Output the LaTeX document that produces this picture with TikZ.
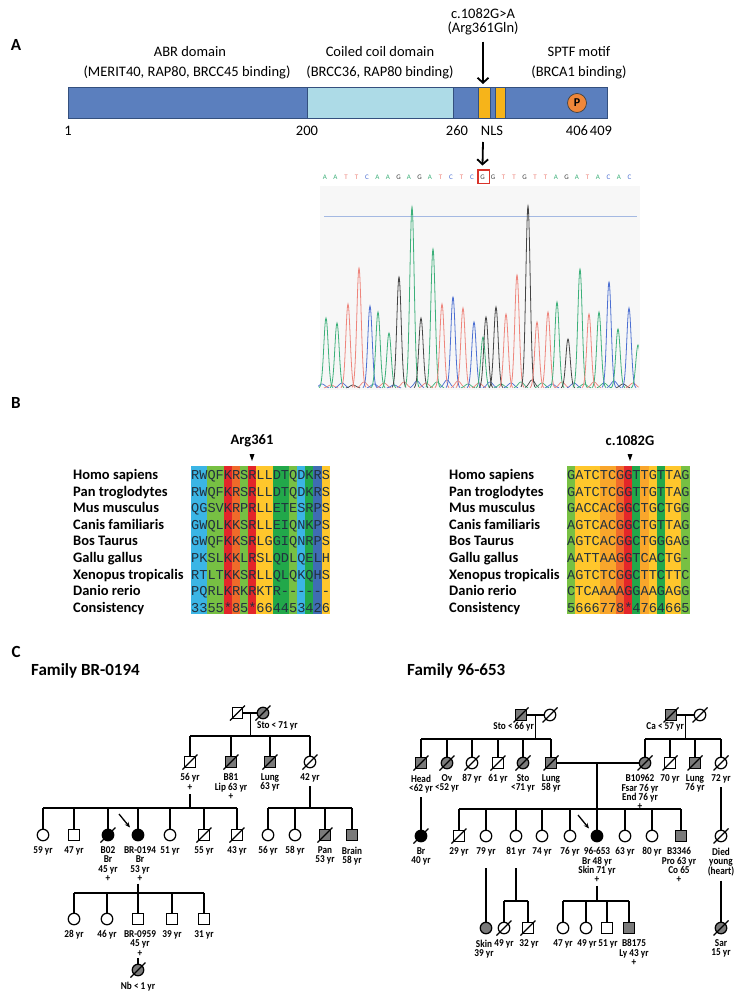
\documentclass[tikz,border=0pt]{standalone}
\usepackage{fontspec}
\setmainfont{Carlito}
\setmonofont{Liberation Mono}
\newfontfamily\pedfam[FakeStretch=0.88]{Carlito}
\usetikzlibrary{arrows.meta}
\definecolor{barblue}{HTML}{5B7FBE}
\definecolor{barline}{HTML}{34507E}
\definecolor{coil}{HTML}{ADDBE7}
\definecolor{nls}{HTML}{F6B41A}
\definecolor{porange}{HTML}{EF873A}
\definecolor{chA}{HTML}{3DB07A}
\definecolor{chT}{HTML}{EE857C}
\definecolor{chC}{HTML}{4C6FD2}
\definecolor{chG}{HTML}{444444}
\definecolor{hline}{HTML}{A4B9E2}
\definecolor{cs2}{HTML}{3F6DB3}
\definecolor{cs3}{HTML}{3BB5E5}
\definecolor{cs4}{HTML}{22A84A}
\definecolor{cs5}{HTML}{77C043}
\definecolor{cs6}{HTML}{FFC72C}
\definecolor{cs7}{HTML}{F9A62B}
\definecolor{cs8}{HTML}{F06A2A}
\definecolor{csS}{HTML}{E3262A}
\definecolor{seqtxt}{HTML}{22313F}
\definecolor{pedgray}{HTML}{7A7A7A}
\definecolor{boxred}{HTML}{D9332A}
\newcommand\fA{\fontsize{14.5}{16}\selectfont}
\newcommand\fPanel{\fontsize{17}{17}\selectfont\bfseries}
\newcommand\fSp{\fontsize{14.5}{16}\selectfont\bfseries}
\newcommand\fSeq{\fontsize{13.6}{14}\selectfont\ttfamily}
\newcommand\fChr{\fontsize{7}{7}\selectfont}
\newcommand\pedfont{\pedfam\bfseries\fontsize{10.5}{9.3}\selectfont}
\newcommand\perx[6]{\node[#4] (#1) at (#2,#3) {}; \node[plab] (#1t) at (#6,#3+11.5) {#5};}
\newcommand\per[5]{\perx{#1}{#2}{#3}{#4}{#5}{#2}}
\newcommand\dd[1]{\draw[pedline] ([shift={(-7.5,7.5)}]#1.center) -- ([shift={(7.5,-7.5)}]#1.center);}
\newcommand\drops[2]{\foreach \c in {#2}{\draw[pedline] (\c.north) -- (\c.north |- #1);}}
\begin{document}
\begin{tikzpicture}[x=1pt,y=-1pt,
  pedline/.style={line width=1.25pt},
  sq/.style={draw,rectangle,minimum size=10.5pt,inner sep=0pt,line width=1.25pt,fill=white},
  ci/.style={draw,circle,minimum size=11.5pt,inner sep=0pt,line width=1.25pt,fill=white},
  gry/.style={fill=pedgray},
  aff/.style={fill=black},
  plab/.style={anchor=north,inner sep=0pt,align=center,font=\pedfont},
  atext/.style={inner sep=0pt,font=\fA},
  species/.style={anchor=base west,inner sep=0pt,font=\fSp},
  seqtext/.style={anchor=base west,inner sep=0pt,font=\fSeq,text=seqtxt},
  bigarr/.style={line width=1.8pt,-{Straight Barb[length=5pt,width=11pt]}},
  parr/.style={line width=1.3pt,-{Stealth[length=5.5pt,width=4.5pt]}},
]
\useasboundingbox (0,0) rectangle (745,1000);
\fill[white] (0,0) rectangle (745,1000);

% ---------- panel labels
\node[font=\fPanel,inner sep=0pt] (labA) at (16,45) {A};
\node[font=\fPanel,inner sep=0pt] (labB) at (16,403) {B};
\node[font=\fPanel,inner sep=0pt] (labC) at (16,652) {C};

% ---------- panel A: protein
\filldraw[fill=barblue,draw=barline,line width=0.6pt] (68,87) rectangle (607,118);
\filldraw[fill=coil,draw=barline,line width=0.5pt] (307,87) rectangle (453,118);
\filldraw[fill=nls,draw=barline,line width=0.6pt] (478,87) rectangle (490,118);
\filldraw[fill=nls,draw=barline,line width=0.6pt] (495,87) rectangle (505,118);
\node[circle,fill=porange,draw=black!75,line width=0.7pt,minimum size=19pt,inner sep=0pt,font=\bfseries\fontsize{12}{12}\selectfont] (pcirc) at (577,103) {P};

\node[atext] (a1) at (190,52) {ABR domain};
\node[atext] (a2) at (187,72) {(MERIT40, RAP80, BRCC45 binding)};
\node[atext] (a3) at (380,52) {Coiled coil domain};
\node[atext] (a4) at (380,72) {(BRCC36, RAP80 binding)};
\node[atext] (a5) at (579,52) {SPTF motif};
\node[atext] (a6) at (579,72) {(BRCA1 binding)};
\node[atext] (a7) at (483,14) {c.1082G>A};
\node[atext] (a8) at (483,28) {(Arg361Gln)};
\coordinate (barTop) at (483,84);
\draw[bigarr] ([yshift=-7pt]a8.south) -- (barTop);

\node[atext] (n1) at (68,131) {1};
\node[atext] (n200) at (307,131) {200};
\node[atext] (n260) at (457,131) {260};
\node[atext] (nNLS) at (492,131) {NLS};
\node[atext] (n406) at (577,131) {406};
\node[atext] (n409) at (601,131) {409};

% ---------- chromatogram
\fill[black!3] (320,186) rectangle (640,390);
\draw[hline,line width=0.8pt] (324,216) -- (637,216);
\foreach \L [count=\i from 0] in {A,A,T,T,C,A,A,G,A,G,A,T,C,T,C,G,G,T,T,G,T,T,A,G,A,T,A,C,A,C}
  \node[font=\fChr,text=ch\L,inner sep=0pt] (s\i) at (325+10.5*\i,177) {\L};
\draw[boxred,line width=1.3pt] (478,170) rectangle (489.5,183.5);
\coordinate (mutTop) at (483,142);
\draw[bigarr] (mutTop) -- ([yshift=9pt]s15.north);

\begin{scope}
\clip (318,190) rectangle (638.5,392);
\foreach \px/\ph/\pc in {322/4/chC,331/3/chT,342/5/chC,353/3/chG,364/6/chT,374/4/chC,384/5/chT,394/3/chC,404/6/chT,417/7/chC,426/5/chT,437/6/chA,447/8/chC,458/7/chT,468/4/chA,479/5/chT,490/6/chC,501/4/chA,511/5/chC,521/6/chA,532/8/chG,542/5/chA,552/4/chC,562/6/chT,574/5/chC,584/4/chA,594/6/chT,604/5/chA,614/7/chC,623/4/chG,633/5/chT}
  \draw[color=\pc,line width=0.7pt] plot[domain=-7:7,samples=21,smooth] ({\px+\x},{388-\ph*exp(-((\x)*(\x))/18)});
\foreach \px/\ph/\pc in {326/70/chA,337/65/chA,348/84/chT,359/120/chT,370/82/chC,378/76/chA,389/55/chA,399/111/chG,412/181/chA,421/70/chG,433/139/chA,442/84/chT,453/91/chC,463/80/chT,474/66/chC,483/51/chA,486/71/chG,496/81/chG,506/74/chT,517/113/chT,528/182/chG,537/66/chT,548/76/chT,557/86/chA,568/49/chG,580/119/chA,589/74/chT,599/76/chA,609/106/chC,618/59/chA,629/80/chC,638/43/chA}
  \draw[color=\pc,line width=0.8pt] plot[domain=-7:7,samples=31,smooth] ({\px+\x},{388-\ph*exp(-((\x)*(\x))/9.5)});
\end{scope}

% ---------- panel B
\node[font=\fSp,inner sep=0pt] (argl) at (252,441) {Arg361};
\fill (249.5,454) -- (254.5,454) -- (252,461) -- cycle;
\node[font=\fSp,inner sep=0pt] (cgl) at (630,441) {c.1082G};
\fill (627.5,454) -- (632.5,454) -- (630,461) -- cycle;
\foreach \v [count=\i from 0] in {3,3,5,5,S,8,5,S,6,6,4,4,5,3,4,2,6}
  \fill[fill=cs\v] (191+8.16*\i,466) rectangle ++(8.3,148);
\foreach \v [count=\i from 0] in {5,6,6,6,7,7,8,S,4,7,6,4,6,6,5}
  \fill[fill=cs\v] (567+8.16*\i,466) rectangle ++(8.3,148);
\foreach \sp/\sa/\sn [count=\i from 0] in {
  Homo sapiens/RWQFKRSRLLDTQDKRS/GATCTCGGTTGTTAG,
  Pan troglodytes/RWQFKRSRLLDTQDKRS/GATCTCGGTTGTTAG,
  Mus musculus/QGSVKRPRLLETESRPS/GACCACGGCTGCTGG,
  Canis familiaris/GWQLKKSRLLEIQNKPS/AGTCACGGCTGTTAG,
  Bos Taurus/GWQFKKSRLGGIQNRPS/AGTCACGGCTGGGAG,
  Gallu gallus/PKSLKKLRSLQDLQELH/AATTAAGGTCACTG-,
  Xenopus tropicalis/RTLTKKSRLLQLQKQHS/AGTCTCGGCTTCTTC,
  Danio rerio/PQRLKRKRKTR------/CTCAAAAGGAAGAGG,
  Consistency/3355*85*664453426/5666778*4764665}
{
  \node[species] (spL\i) at (73,479.5+16.6*\i) {\sp};
  \node[seqtext] (sqL\i) at (191,479.5+16.6*\i) {\sa};
  \node[species] (spR\i) at (449,479.5+16.6*\i) {\sp};
  \node[seqtext] (sqR\i) at (567,479.5+16.6*\i) {\sn};
}

% ---------- panel C headers
\node[font=\fPanel,anchor=west,inner sep=0pt] (famL) at (31,671) {Family BR-0194};
\node[font=\fPanel,anchor=west,inner sep=0pt] (famR) at (407,671) {Family 96-653};

% ---------- left pedigree
\coordinate (lsII) at (0,736);
\coordinate (lsIII) at (0,808);
\coordinate (lsIV) at (0,893);
\node[sq] (lIa) at (237.5,713) {};
\node[ci,gry] (lIb) at (263,713) {};
\draw[pedline] (lIa) -- (lIb);
\coordinate (lIm) at (250.3,713);
\draw[pedline] (lIm) -- (lIm |- lsII);
\node[font=\pedfont,anchor=west,inner sep=0pt] (lIlab) at (257,726) {Sto < 71 yr};

\per{lIIa}{190}{762}{sq}{56 yr\\+}
\per{lIIb}{231}{762}{sq,gry}{B81\\Lip 63 yr\\+}
\per{lIIc}{270}{762}{sq,gry}{Lung\\63 yr}
\per{lIId}{310}{762}{ci}{42 yr}
\draw[pedline] (lIIa.north |- lsII) -- (lIId.north |- lsII);
\drops{lsII}{lIIa,lIIb,lIIc,lIId}

\per{lIIIa}{43}{835}{ci}{59 yr}
\per{lIIIb}{74}{835}{sq}{47 yr}
\per{lIIIc}{108}{835}{ci,aff}{B02\\Br\\45 yr\\+}
\perx{lIIId}{138}{835}{ci,aff}{BR-0194\\Br\\53 yr\\+}{140}
\per{lIIIe}{170}{835}{ci}{51 yr}
\per{lIIIf}{204}{835}{sq}{55 yr}
\per{lIIIg}{237}{835}{sq}{43 yr}
\per{lIIIh}{268}{835}{ci}{56 yr}
\per{lIIIi}{295}{835}{ci}{58 yr}
\per{lIIIj}{325}{835}{sq,gry}{Pan\\53 yr}
\per{lIIIk}{352}{835}{sq,gry}{Brain\\58 yr}
\draw[pedline] ([yshift=-4pt]lIIat.south) -- (lIIat.south |- lsIII);
\draw[pedline] ([yshift=-4pt]lIIdt.south) -- (lIIdt.south |- lsIII);
\draw[pedline] (lIIIa.north |- lsIII) -- (lIIIg.north |- lsIII);
\draw[pedline] (lIIIh.north |- lsIII) -- (lIIIk.north |- lsIII);
\drops{lsIII}{lIIIa,lIIIb,lIIIc,lIIId,lIIIe,lIIIf,lIIIg,lIIIh,lIIIi,lIIIj,lIIIk}

\per{lIVa}{74}{919}{ci}{28 yr}
\per{lIVb}{107}{919}{ci}{46 yr}
\perx{lIVc}{138}{919}{sq}{BR-0959\\45 yr\\+}{140}
\per{lIVd}{172}{919}{sq}{39 yr}
\per{lIVe}{204}{919}{sq}{31 yr}
\draw[pedline] (lIIId |- lIIIdt.south) ++(0,2) -- (lIIId |- lsIV);
\draw[pedline] (lIVa.north |- lsIV) -- (lIVe.north |- lsIV);
\drops{lsIV}{lIVa,lIVb,lIVc,lIVd,lIVe}

\per{lVa}{138}{970}{ci,gry}{Nb < 1 yr}
\draw[pedline] (lIVc |- lIVct.south) ++(0,2) -- (lVa.north);

\foreach \n in {lIa,lIb,lIIa,lIIb,lIIc,lIId,lIIIc,lIIIf,lIIIg,lIIIj,lVa} {\dd{\n}}
\draw[parr] ([shift={(-19,-21)}]lIIId.center) -- ([shift={(-8,-7.5)}]lIIId.center);

% ---------- right pedigree
\coordinate (rsII) at (0,739);
\coordinate (rsIII) at (0,809);
\coordinate (rsIV) at (0,901);
\coordinate (rl868) at (0,868);
\node[sq,gry] (rIa) at (521,715) {};
\node[ci] (rIb) at (550,715) {};
\node[sq,gry] (rIc) at (671,715) {};
\node[ci] (rId) at (700,715) {};
\draw[pedline] (rIa) -- (rIb);
\draw[pedline] (rIc) -- (rId);
\coordinate (rIm1) at (535.5,715);
\coordinate (rIm2) at (685.5,715);
\draw[pedline] (rIm1) -- (rIm1 |- rsII);
\draw[pedline] (rIm2) -- (rIm2 |- rsII);
\node[font=\pedfont,anchor=east,inner sep=0pt] (rIlab1) at (534,727) {Sto < 66 yr};
\node[font=\pedfont,anchor=east,inner sep=0pt] (rIlab2) at (684,727) {Ca < 57 yr};

\per{rIIa}{421}{763}{sq,gry}{Head\\<62 yr}
\per{rIIb}{447}{763}{ci,gry}{Ov\\<52 yr}
\per{rIIc}{472}{763}{ci}{87 yr}
\per{rIId}{498}{763}{sq}{61 yr}
\per{rIIe}{523}{763}{ci,gry}{Sto\\<71 yr}
\per{rIIf}{551}{763}{sq,gry}{Lung\\58 yr}
\perx{rIIg}{645}{763}{ci,gry}{B10962\\Fsar 76 yr\\End 76 yr\\+}{640}
\per{rIIh}{670}{763}{sq}{70 yr}
\per{rIIi}{695}{763}{sq,gry}{Lung\\76 yr}
\per{rIIj}{721}{763}{ci}{72 yr}
\draw[pedline] (rIIa.north |- rsII) -- (rIIf.north |- rsII);
\draw[pedline] (rIIg.north |- rsII) -- (rIIj.north |- rsII);
\drops{rsII}{rIIa,rIIb,rIIc,rIId,rIIe,rIIf,rIIg,rIIh,rIIi,rIIj}
\draw[pedline] (rIIf) -- (rIIg);
\coordinate (rIIm) at (597,763);
\draw[pedline] (rIIm) -- (rIIm |- rsIII);

\per{rIIIa}{421}{836}{ci,aff}{Br\\40 yr}
\per{rIIIb}{459}{836}{sq}{29 yr}
\per{rIIIc}{486}{836}{ci}{79 yr}
\per{rIIId}{516}{836}{ci}{81 yr}
\per{rIIIe}{542}{836}{ci}{74 yr}
\per{rIIIf}{570}{836}{ci}{76 yr}
\per{rIIIg}{597}{836}{ci,aff}{96-653\\Br 48 yr\\Skin 71 yr\\+}
\per{rIIIh}{625}{836}{ci}{63 yr}
\per{rIIIi}{652}{836}{ci}{80 yr}
\perx{rIIIj}{681}{836}{sq,gry}{B3346\\Pro 63 yr\\Co 65\\+}{679}
\per{rIIIk}{721}{836}{ci}{Died\\young\\(heart)}
\draw[pedline] (rIIIb.north |- rsIII) -- (rIIIj.north |- rsIII);
\drops{rsIII}{rIIIb,rIIIc,rIIId,rIIIe,rIIIf,rIIIg,rIIIh,rIIIi,rIIIj}
\draw[pedline] (rIIa |- rIIat.south) ++(0,4) -- (rIIIa.north);
\draw[pedline] (rIIj |- rIIjt.south) ++(0,4) -- (rIIIk.north);

\perx{rIVa}{486}{928}{ci,gry}{Skin\\39 yr}{484}
\per{rIVb}{504}{928}{ci}{49 yr}
\perx{rIVc}{528}{928}{sq}{32 yr}{529}
\per{rIVd}{563}{928}{ci}{47 yr}
\perx{rIVe}{586}{928}{ci}{49 yr}{587}
\perx{rIVf}{607}{928}{sq}{51 yr}{608}
\perx{rIVg}{629}{928}{sq,gry}{B8175\\Ly 43 yr\\+}{634}
\per{rIVh}{721}{928}{ci,gry}{Sar\\15 yr}
\draw[pedline] (rIIIc |- rl868) -- (rIVa.north);
\draw[pedline] (rIIId |- rl868) -- (rIIId |- rsIV);
\draw[pedline] (rIVb.north |- rsIV) -- (rIVc.north |- rsIV);
\drops{rsIV}{rIVb,rIVc}
\draw[pedline] (rIIIg |- rIIIgt.south) ++(0,3) -- (rIIIg |- rsIV);
\draw[pedline] (rIVd.north |- rsIV) -- (rIVg.north |- rsIV);
\drops{rsIV}{rIVd,rIVe,rIVf,rIVg}
\draw[pedline] (rIIIk |- rIIIkt.south) ++(0,4) -- (rIVh.north);

\foreach \n in {rIa,rIb,rIc,rId,rIIa,rIIb,rIIc,rIId,rIIe,rIIf,rIIg,rIIh,rIIi,rIIj,rIIIa,rIIIb,rIIIk,rIVb,rIVc,rIVh} {\dd{\n}}
\draw[parr] ([shift={(-19,-21)}]rIIIg.center) -- ([shift={(-8,-7.5)}]rIIIg.center);
\end{tikzpicture}
\end{document}
